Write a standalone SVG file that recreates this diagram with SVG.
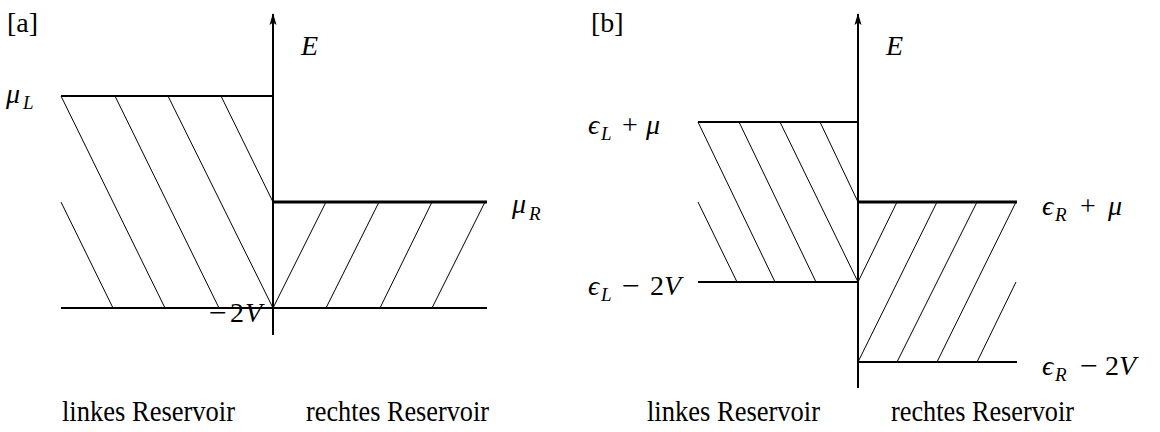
<svg xmlns="http://www.w3.org/2000/svg" width="1160" height="432" viewBox="0 0 1160 432">
<defs>
<marker id="arr" markerUnits="userSpaceOnUse" markerWidth="12" markerHeight="8" refX="11" refY="4" orient="auto" viewBox="0 0 12 8">
<path d="M12 4 L0 0.5 L2.5 4 L0 7.5 Z" fill="#000"/>
</marker>
</defs>
<style>
.ax{stroke:#000;stroke-width:2;fill:none}
.lv{stroke:#000;stroke-width:2;fill:none}
.lvt{stroke:#000;stroke-width:3;fill:none}
.h{stroke:#000;stroke-width:1;fill:none}
text{font-family:"Liberation Serif","DejaVu Serif",serif;font-size:28px;fill:#000}
.it{font-style:italic}
.up{font-style:normal}
.sub{font-size:19px;font-style:italic}
.cap{font-size:29px}
</style>
<rect width="1160" height="432" fill="#fff"/>

<g id="panel-a">
  <g id="a-levels">
    <line class="lv" x1="61" y1="96" x2="273" y2="96"/>
    <line class="lvt" x1="273" y1="202" x2="487" y2="202"/>
    <line class="lv" x1="61" y1="308" x2="487" y2="308"/>
  </g>
  <g id="a-hatch">
    <line class="h" x1="61" y1="96" x2="165" y2="308"/>
    <line class="h" x1="115" y1="96" x2="219" y2="308"/>
    <line class="h" x1="168" y1="96" x2="273" y2="308"/>
    <line class="h" x1="221" y1="96" x2="273" y2="202"/>
    <line class="h" x1="61" y1="202" x2="113" y2="308"/>
    <line class="h" x1="273" y1="308" x2="326" y2="202"/>
    <line class="h" x1="326" y1="308" x2="379" y2="202"/>
    <line class="h" x1="380" y1="308" x2="432" y2="202"/>
    <line class="h" x1="432" y1="308" x2="485" y2="202"/>
  </g>
  <line id="a-axis" class="ax" x1="273" y1="335" x2="273" y2="14" marker-end="url(#arr)"/>
  <text id="a-tag" x="7" y="32">[a]</text>
  <text id="a-E" class="it" x="301" y="55">E</text>
  <text id="a-muL" class="it" x="6" y="103">μ<tspan class="sub" x="23" y="109">L</tspan></text>
  <text id="a-muR" class="it" x="512" y="213">μ<tspan class="sub" x="529" y="220">R</tspan></text>
  <text id="a-m2V" x="209" y="322"><tspan textLength="18" lengthAdjust="spacingAndGlyphs">−</tspan><tspan x="230">2</tspan><tspan class="it" x="245">V</tspan></text>
  <text id="a-left" class="cap" x="62" y="421" textLength="173" lengthAdjust="spacingAndGlyphs">linkes Reservoir</text>
  <text id="a-right" class="cap" x="306" y="421" textLength="183" lengthAdjust="spacingAndGlyphs">rechtes Reservoir</text>
</g>

<g id="panel-b">
  <g id="b-levels">
    <line class="lv" x1="698" y1="122" x2="858" y2="122"/>
    <line class="lv" x1="698" y1="282" x2="858" y2="282"/>
    <line class="lvt" x1="858" y1="202" x2="1017" y2="202"/>
    <line class="lv" x1="858" y1="362" x2="1017" y2="362"/>
  </g>
  <g id="b-hatch">
    <line class="h" x1="698" y1="122" x2="775" y2="282"/>
    <line class="h" x1="739" y1="122" x2="816" y2="282"/>
    <line class="h" x1="780" y1="122" x2="858" y2="282"/>
    <line class="h" x1="820" y1="122" x2="858" y2="202"/>
    <line class="h" x1="698" y1="202" x2="737" y2="282"/>
    <line class="h" x1="858" y1="282" x2="897" y2="202"/>
    <line class="h" x1="858" y1="362" x2="937" y2="202"/>
    <line class="h" x1="897" y1="362" x2="977" y2="202"/>
    <line class="h" x1="937" y1="362" x2="1016" y2="202"/>
    <line class="h" x1="977" y1="362" x2="1016" y2="282"/>
  </g>
  <line id="b-axis" class="ax" x1="858" y1="388" x2="858" y2="14" marker-end="url(#arr)"/>
  <text id="b-tag" x="591" y="32">[b]</text>
  <text id="b-E" class="it" x="886" y="55">E</text>
  <text id="b-eLmu" class="it" x="588" y="134">ϵ<tspan class="sub" x="601" y="140">L</tspan><tspan class="up" x="622" y="134">+</tspan><tspan x="646" y="134">μ</tspan></text>
  <text id="b-eL2V" class="it" x="588" y="295">ϵ<tspan class="sub" x="601" y="301">L</tspan><tspan class="up" x="622" y="295" textLength="18" lengthAdjust="spacingAndGlyphs">−</tspan><tspan class="up" x="650" y="295">2</tspan><tspan x="664" y="295">V</tspan></text>
  <text id="b-eRmu" class="it" x="1042" y="215">ϵ<tspan class="sub" x="1055" y="221">R</tspan><tspan class="up" x="1080" y="215">+</tspan><tspan x="1108" y="215">μ</tspan></text>
  <text id="b-eR2V" class="it" x="1042" y="375">ϵ<tspan class="sub" x="1055" y="381">R</tspan><tspan class="up" x="1080" y="375" textLength="18" lengthAdjust="spacingAndGlyphs">−</tspan><tspan class="up" x="1105" y="375">2</tspan><tspan x="1119" y="375">V</tspan></text>
  <text id="b-left" class="cap" x="647" y="421" textLength="173" lengthAdjust="spacingAndGlyphs">linkes Reservoir</text>
  <text id="b-right" class="cap" x="891" y="421" textLength="183" lengthAdjust="spacingAndGlyphs">rechtes Reservoir</text>
</g>
</svg>
